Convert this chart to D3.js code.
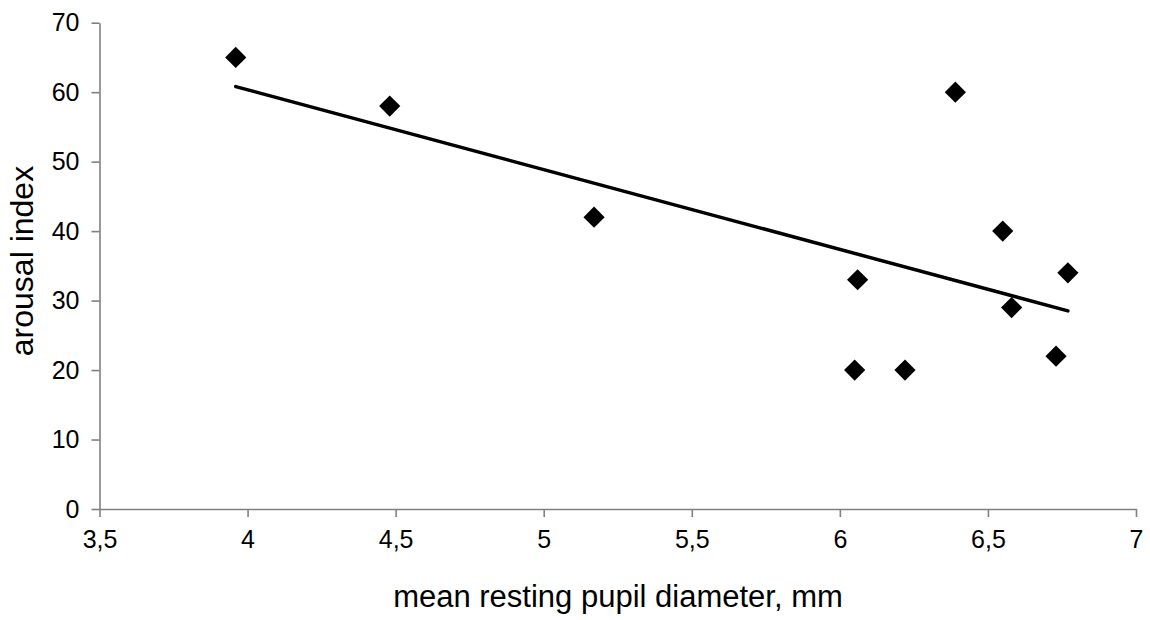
<!DOCTYPE html>
<html>
<head>
<meta charset="utf-8">
<script src="https://cdn.jsdelivr.net/npm/d3@7"></script>
<style>
  body { margin: 0; background: #fff; }
  svg text { font-family: "Liberation Sans", Arial, sans-serif; fill: #000; }
  .axis path, .axis line { stroke: #808080; stroke-width: 1.6; }
</style>
</head>
<body>
<svg width="1150" height="620"></svg>
<script>
// pupil diameter (mm) vs arousal index
var pupil   = [3.96, 4.48, 5.17, 6.06, 6.05, 6.22, 6.39, 6.55, 6.58, 6.73, 6.77];
var arousal = [65, 58, 42, 33, 20, 20, 60, 40, 29, 22, 34];
var xTicks = [3.5, 4, 4.5, 5, 5.5, 6, 6.5, 7];
var yTicks = [0, 10, 20, 30, 40, 50, 60, 70];

var svg = d3.select("svg");

var x = d3.scaleLinear().domain([3.5, 7]).range([99.5, 1136]);
var y = d3.scaleLinear().domain([0, 70]).range([509, 22.7]);

var comma = function(d) { return String(d).replace(".", ","); };

var gx = svg.append("g")
  .attr("class", "axis")
  .attr("transform", "translate(0," + y(0) + ")")
  .call(d3.axisBottom(x).tickValues(xTicks).tickFormat(comma).tickSize(8).tickPadding(13).tickSizeOuter(0));
gx.selectAll("text").style("font-size", "25px");

var gy = svg.append("g")
  .attr("class", "axis")
  .attr("transform", "translate(" + x(3.5) + ",0)")
  .call(d3.axisLeft(y).tickValues(yTicks).tickSize(8).tickPadding(12).tickSizeOuter(0));
gy.selectAll("text").style("font-size", "25px");

// least squares trend line over the range of the data
var n = pupil.length;
var mx = d3.mean(pupil), my = d3.mean(arousal);
var sxy = 0, sxx = 0;
for (var i = 0; i < n; i++) {
  sxy += (pupil[i] - mx) * (arousal[i] - my);
  sxx += (pupil[i] - mx) * (pupil[i] - mx);
}
var slope = sxy / sxx, icpt = my - slope * mx;
var x0 = d3.min(pupil), x1 = d3.max(pupil);

svg.append("line")
  .attr("x1", x(x0)).attr("y1", y(icpt + slope * x0))
  .attr("x2", x(x1)).attr("y2", y(icpt + slope * x1))
  .attr("stroke", "#000")
  .attr("stroke-width", 3.5)
  .attr("stroke-linecap", "round");

var pts = pupil.map(function(d, i) { return {x: d, y: arousal[i]}; });

svg.selectAll(".pt")
  .data(pts).enter()
  .append("path")
  .attr("class", "pt")
  .attr("d", d3.symbol(d3.symbolSquare).size(225))
  .attr("transform", function(d) { return "translate(" + x(d.x) + "," + y(d.y) + ") rotate(45)"; })
  .attr("fill", "#000");

svg.append("text")
  .attr("x", 618)
  .attr("y", 607)
  .attr("text-anchor", "middle")
  .style("font-size", "31px")
  .text("mean resting pupil diameter, mm");

svg.append("text")
  .attr("transform", "translate(33,261) rotate(-90)")
  .attr("text-anchor", "middle")
  .style("font-size", "32px")
  .text("arousal index");
</script>
</body>
</html>
